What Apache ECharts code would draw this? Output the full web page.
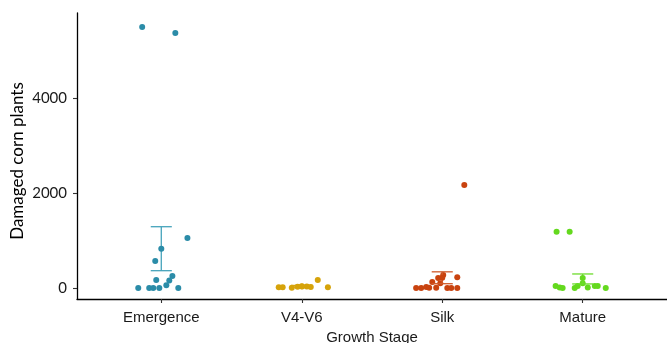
<!DOCTYPE html>
<html>
<head>
<meta charset="utf-8">
<script src="https://cdn.jsdelivr.net/npm/echarts@6/dist/echarts.min.js"></script>
<style>html,body{margin:0;padding:0;background:#fff}#c{width:667px;height:343px}</style>
</head>
<body>
<div id="c"></div>
<script>
const categories = ['Emergence', 'V4-V6', 'Silk', 'Mature'];
const colors = ['#2b8ca8', '#d6a30a', '#c9430f', '#64d91e'];
const barColors = ['#45a3bb', '#d6a30a', '#cf5a2a', '#6ddc2c'];
const yTicks = [0, 2000, 4000];

// jitter offsets (category units) and values per growth stage
const emergenceX = [-0.136, 0.100, 0.186, -0.043, -0.036, -0.164, -0.086, -0.057, -0.014, 0.036, 0.057, 0.079, 0.121];
const emergenceY = [5495, 5368, 1053, 568, 168, 0, 0, 0, 0, 60, 160, 250, 0];
const v4v6X = [-0.164, -0.136, -0.071, -0.030, 0.002, 0.036, 0.064, 0.114, 0.186];
const v4v6Y = [15, 15, 5, 25, 30, 30, 20, 170, 15];
const silkX = [-0.186, -0.150, -0.114, -0.093, -0.071, -0.043, -0.029, -0.014, 0.007, 0.036, 0.064, 0.107, 0.107, 0.157];
const silkY = [0, 0, 20, 5, 128, 5, 210, 100, 274, 0, 0, 225, 0, 2168];
const matureX = [-0.193, -0.164, -0.143, -0.057, -0.036, 0.000, 0.036, 0.086, 0.107, 0.164, -0.186, -0.093];
const matureY = [40, 10, 0, 0, 40, 100, 10, 40, 40, 0, 1185, 1185];

// mean and standard-error bar per stage
const means = [827, 36, 215, 210];
const lowers = [364, 18, 90, 85];
const uppers = [1290, 54, 340, 295];

const groupsX = [emergenceX, v4v6X, silkX, matureX];
const groupsY = [emergenceY, v4v6Y, silkY, matureY];

const series = [];
groupsX.forEach((xs, i) => {
  series.push({
    type: 'scatter',
    symbolSize: 6,
    itemStyle: { color: colors[i], opacity: 1 },
    data: xs.map((dx, j) => [i + 1 + dx, groupsY[i][j]]),
    z: 3
  });
});
series.push({
  type: 'custom',
  z: 4,
  data: categories.map((c, i) => [i + 1, means[i], lowers[i], uppers[i]]),
  renderItem: function (params, api) {
    const i = params.dataIndex;
    const x = api.value(0);
    const pm = api.coord([x, api.value(1)]);
    const pl = api.coord([x, api.value(2)]);
    const pu = api.coord([x, api.value(3)]);
    const half = api.size([0.075, 0])[0];
    const st = { stroke: barColors[i], lineWidth: 1.3 };
    return {
      type: 'group',
      children: [
        { type: 'line', shape: { x1: pm[0], y1: pl[1], x2: pm[0], y2: pu[1] }, style: st },
        { type: 'line', shape: { x1: pm[0] - half, y1: pu[1], x2: pm[0] + half, y2: pu[1] }, style: st },
        { type: 'line', shape: { x1: pm[0] - half, y1: pl[1], x2: pm[0] + half, y2: pl[1] }, style: st },
        { type: 'circle', shape: { cx: pm[0], cy: pm[1], r: 3 }, style: { fill: colors[i] } }
      ]
    };
  }
});

const chart = echarts.init(document.getElementById('c'), null, { renderer: 'canvas' });
chart.setOption({
  animation: false,
  backgroundColor: '#fff',
  grid: { left: 77, right: 0, top: 13, bottom: 44, containLabel: false, outerBoundsMode: 'none' },
  graphic: [{
    type: 'text', x: 18, y: 161, rotation: Math.PI / 2,
    style: { text: 'Damaged corn plants', font: '17px Lato', fill: '#000',
      textAlign: 'center', textVerticalAlign: 'middle' }
  }],
  xAxis: {
    type: 'value', min: 0.4, max: 4.6,
    name: 'Growth Stage', nameLocation: 'middle', nameGap: 31,
    nameTextStyle: { fontFamily: 'Liberation Sans', fontSize: 15, color: '#1a1a1a' },
    axisLine: { show: true, onZero: false, lineStyle: { color: '#000', width: 1.3 } },
    axisTick: { show: true, length: 4, lineStyle: { color: '#333', width: 1.1 }, customValues: [1, 2, 3, 4] },
    axisLabel: { fontFamily: 'Liberation Sans', fontSize: 15, color: '#1a1a1a', margin: 11,
      customValues: [1, 2, 3, 4], formatter: v => categories[Math.round(v) - 1] },
    splitLine: { show: false }
  },
  yAxis: {
    type: 'value', min: -232, max: 5789,
    axisLine: { show: true, onZero: false, lineStyle: { color: '#000', width: 1.3 } },
    axisTick: { show: true, length: 4, lineStyle: { color: '#333', width: 1.1 }, customValues: yTicks },
    axisLabel: { fontFamily: 'Lato', fontSize: 15, color: '#1a1a1a', margin: 10, customValues: yTicks,
      formatter: v => String(v) },
    splitLine: { show: false }
  },
  series: series
});
</script>
</body>
</html>
